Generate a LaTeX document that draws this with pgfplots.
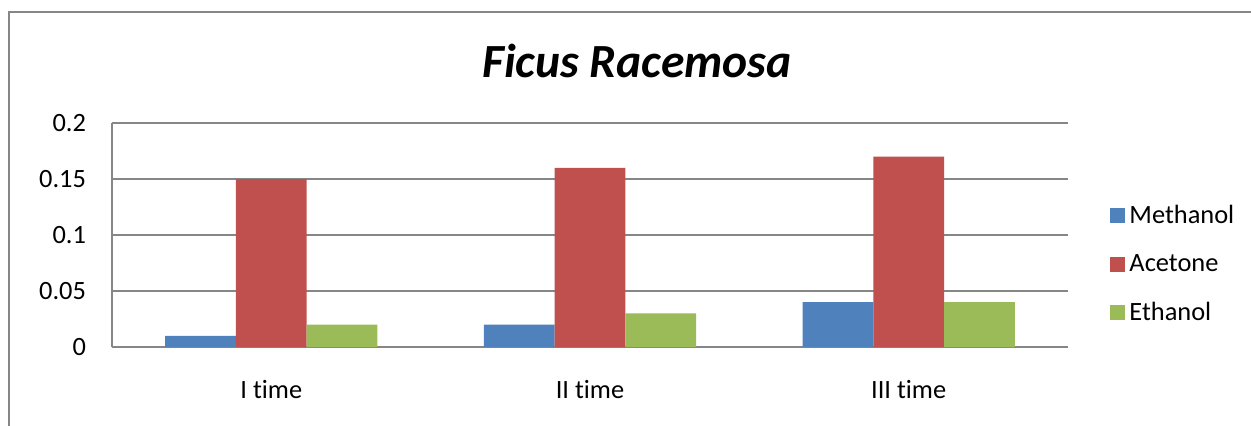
\documentclass[border=0pt]{standalone}
\usepackage{pgfplots}
\pgfplotsset{compat=1.18}
\usepackage{fontspec}
\setmainfont[Ligatures=NoCommon]{Carlito}
\definecolor{cblue}{HTML}{4F81BD}
\definecolor{cred}{HTML}{C0504D}
\definecolor{cgreen}{HTML}{9BBB59}
\definecolor{cgrid}{HTML}{868686}
\begin{document}
\begin{tikzpicture}
\useasboundingbox (0,0) rectangle (625.5pt,212.5pt);
\draw[cgrid, line width=0.9pt] (4.5pt,-5pt) -- (4.5pt,206.5pt) -- (640pt,206.5pt);
\node[font=\fontsize{23.8}{28}\selectfont\bfseries\itshape] at (318.5pt,182pt) {Ficus Racemosa};
\begin{axis}[
  at={(56pt,39pt)}, anchor=south west,
  width=478pt, height=112pt, scale only axis,
  xmin=-0.5, xmax=2.5, ymin=0, ymax=0.2,
  xtick={0,1,2}, xticklabels={I time, II time, III time},
  ytick={0,0.05,0.1,0.15,0.2},
  scaled y ticks=false,
  yticklabel style={/pgf/number format/fixed, /pgf/number format/precision=2, xshift=-9.5pt},
  /pgf/number format/assume math mode=true,
  xticklabel style={yshift=-13pt},
  ticklabel style={font=\fontsize{13.2}{15}\selectfont},
  axis x line*=bottom, axis y line*=left,
  axis line style={cgrid, line width=0.8pt},
  major tick length=0pt,
  ymajorgrids, grid style={cgrid, line width=0.6pt},
  legend style={at={(1.044,0.37)}, anchor=west, draw=none, fill=none,
    font=\fontsize{13.2}{15}\selectfont, row sep=10pt, inner sep=0pt,
    /tikz/every even column/.append style={column sep=5pt}},
  legend cell align=left,
  legend image code/.code={\fill[#1] (0pt,-3.75pt) rectangle (7.5pt,3.75pt);},
]
\addplot[ybar, bar width=0.222, bar shift=-0.222, fill=cblue, draw=none] coordinates {(0,0.01) (1,0.02) (2,0.04)};
\addlegendentry{Methanol}
\addplot[ybar, bar width=0.222, bar shift=0, fill=cred, draw=none] coordinates {(0,0.15) (1,0.16) (2,0.17)};
\addlegendentry{Acetone}
\addplot[ybar, bar width=0.222, bar shift=0.222, fill=cgreen, draw=none] coordinates {(0,0.02) (1,0.03) (2,0.04)};
\addlegendentry{Ethanol}
\end{axis}
\end{tikzpicture}
\end{document}
